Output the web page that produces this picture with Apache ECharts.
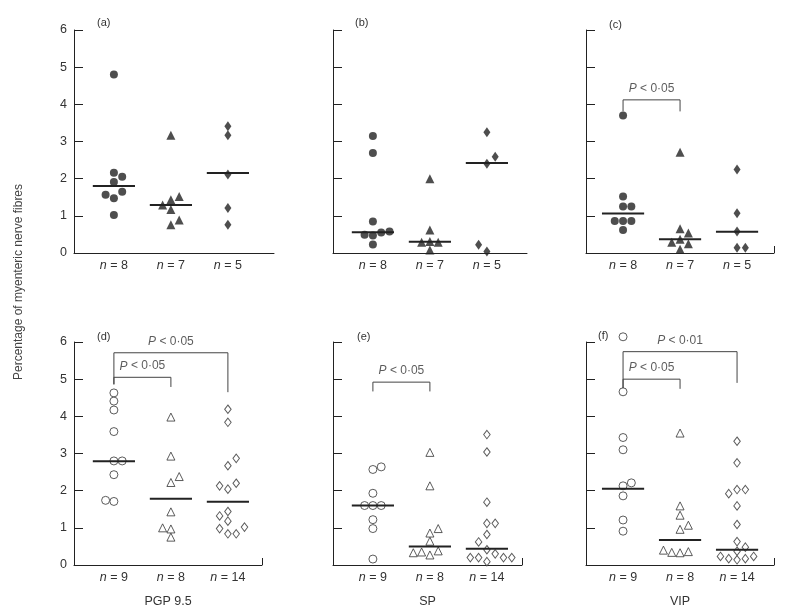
<!DOCTYPE html>
<html>
<head>
<meta charset="utf-8">
<script src="https://cdn.jsdelivr.net/npm/echarts@6/dist/echarts.min.js"></script>
<style>
html,body{margin:0;padding:0;background:#fff;}
#chart{width:791px;height:609px;}
</style>
</head>
<body>
<div id="chart"></div>
<script>
// ---------------- data ----------------
const panelLetters = ['(a)', '(b)', '(c)', '(d)', '(e)', '(f)'];
const nLabelsTop = ['8', '7', '5'];
const nLabelsBottom = ['9', '8', '14'];
const peptideNames = ['PGP 9.5', 'SP', 'VIP'];
const yAxisTitle = 'Percentage of myenteric nerve fibres';

const aCircle   = [4.80, 2.16, 2.05, 1.91, 1.47, 1.57, 1.65, 1.02];
const aTriangle = [3.17, 1.43, 1.52, 1.29, 1.17, 0.76, 0.89];
const aDiamond  = [3.41, 3.17, 2.11, 1.21, 0.76];
const aMedian   = [1.80, 1.29, 2.15];

const bCircle   = [3.15, 2.69, 0.85, 0.23, 0.47, 0.55, 0.49, 0.58];
const bTriangle = [2.00, 0.62, 0.08, 0.31, 0.29, 0.29];
const bDiamond  = [3.25, 2.40, 2.59, 0.04, 0.22];
const bMedian   = [0.56, 0.30, 2.42];

const cCircle   = [3.70, 1.52, 1.25, 1.25, 0.62, 0.86, 0.86, 0.86];
const cTriangle = [2.71, 0.65, 0.37, 0.10, 0.54, 0.29, 0.25];
const cDiamond  = [2.25, 1.07, 0.58, 0.14, 0.14];
const cMedian   = [1.06, 0.37, 0.57];

const dCircle   = [4.63, 4.41, 4.17, 3.59, 2.80, 2.80, 2.43, 1.71, 1.74];
const dTriangle = [3.98, 2.93, 2.22, 1.43, 0.97, 0.75, 2.38, 1.00];
const dDiamond  = [4.19, 3.84, 2.67, 2.87, 2.04, 2.13, 2.20, 1.44, 1.18, 1.32, 0.84, 0.84, 0.98, 1.02];
const dMedian   = [2.79, 1.78, 1.70];

const eCircle   = [2.57, 2.64, 1.93, 1.60, 1.60, 1.60, 1.22, 0.98, 0.16];
const eTriangle = [3.03, 2.13, 0.86, 0.64, 0.27, 0.98, 0.35, 0.38, 0.33];
const eDiamond  = [3.51, 3.04, 1.69, 1.12, 1.12, 0.82, 0.41, 0.09, 0.62, 0.30, 0.20, 0.20, 0.20, 0.20];
const eMedian   = [1.60, 0.50, 0.44];

const fCircle   = [6.14, 4.66, 3.43, 3.10, 2.13, 2.21, 1.86, 1.21, 0.91];
const fTriangle = [3.55, 1.59, 1.34, 0.96, 1.07, 0.33, 0.34, 0.36, 0.40];
const fDiamond  = [3.33, 2.75, 2.03, 2.03, 1.92, 1.59, 1.09, 0.63, 0.14, 0.37, 0.48, 0.17, 0.17, 0.23, 0.23];
const fMedian   = [2.05, 0.67, 0.41];

// brackets: [fromGroup, toGroup, topValue, leftLegEnd, rightLegEnd, pValueText]
const cBrackets = [[1, 2, 4.12, 3.81, 3.81, '0·05']];
const dBrackets = [[1, 3, 5.71, 4.86, 4.65, '0·05'], [1, 2, 5.05, 4.86, 4.79, '0·05']];
const eBrackets = [[1, 2, 4.92, 4.67, 4.67, '0·05']];
const fBrackets = [[1, 3, 5.74, 4.76, 4.90, '0·01'], [1, 2, 5.00, 4.76, 4.74, '0·05']];

// ---------------- layout ----------------
const FONT = '"Liberation Sans", Arial, Helvetica, sans-serif';
const TXT = '#333';
const INK = '#222';
const X_PX = 57; // px per group unit
const panels = [
  {grid: {left: 74,  top: 30,  width: 200, height: 223}, xMin: 0.30, endTick: false, showY: true,  letterPos: [97, 17],  filled: true,  groups: [aCircle, aTriangle, aDiamond], med: aMedian, br: [],        n: nLabelsTop,    name: ''},
  {grid: {left: 333, top: 30,  width: 194, height: 223}, xMin: 0.30, endTick: false, showY: false, letterPos: [355, 17], filled: true,  groups: [bCircle, bTriangle, bDiamond], med: bMedian, br: [],        n: nLabelsTop,    name: ''},
  {grid: {left: 586, top: 30,  width: 188, height: 223}, xMin: 0.35, endTick: true,  showY: false, letterPos: [609, 19], filled: true,  groups: [cCircle, cTriangle, cDiamond], med: cMedian, br: cBrackets, n: nLabelsTop,    name: ''},
  {grid: {left: 74,  top: 342, width: 188, height: 224}, xMin: 0.30, endTick: true,  showY: true,  letterPos: [97, 331], filled: false, groups: [dCircle, dTriangle, dDiamond], med: dMedian, br: dBrackets, n: nLabelsBottom, name: peptideNames[0]},
  {grid: {left: 333, top: 342, width: 189, height: 224}, xMin: 0.30, endTick: true,  showY: false, letterPos: [357, 331], filled: false, groups: [eCircle, eTriangle, eDiamond], med: eMedian, br: eBrackets, n: nLabelsBottom, name: peptideNames[1]},
  {grid: {left: 586, top: 342, width: 188, height: 224}, xMin: 0.35, endTick: true,  showY: false, letterPos: [598, 330], filled: false, groups: [fCircle, fTriangle, fDiamond], med: fMedian, br: fBrackets, n: nLabelsBottom, name: peptideNames[2]}
];

const symbols = ['circle', 'triangle', 'diamond'];
const symSizeFilled = [8, 9, [7, 10]];
const symSizeHollow = [8, 8, [6.5, 8.5]];

// simple beeswarm: spread colliding points sideways (layout computed, not typed)
function swarm(values, pxPerUnit) {
  const D = 7.8, DX = 8.3;
  const placed = [];
  return values.map(v => {
    const y = v * pxPerUnit;
    const hit = s => placed.some(p => Math.hypot((p.slot - s) * DX, p.y - y) < D);
    let slot = 0;
    if (hit(0)) {
      for (let k = 1; k < 12; k++) {
        const L = placed.filter(p => p.slot < 0).length;
        const R = placed.filter(p => p.slot > 0).length;
        const order = L < R ? [-k, k] : [k, -k];
        const s = order.find(c => !hit(c));
        if (s !== undefined) { slot = s; break; }
      }
    }
    placed.push({y, slot});
    return slot * DX;
  });
}

const grids = [], xAxes = [], yAxes = [], series = [], titles = [];
panels.forEach((p, i) => {
  grids.push(p.grid);
  const xMax = p.xMin + p.grid.width / X_PX;
  xAxes.push({
    type: 'value', gridIndex: i, min: p.xMin, max: xMax,
    axisLine: {show: true, lineStyle: {color: INK, width: 1}},
    axisTick: p.endTick ? {show: true, inside: true, length: 7, customValues: [xMax], lineStyle: {color: INK}} : {show: false},
    splitLine: {show: false},
    axisLabel: {
      show: true, customValues: [1, 2, 3], margin: 6,
      formatter: v => '{i|n} = ' + p.n[Math.round(v) - 1],
      fontFamily: FONT, fontSize: 12.5, color: TXT,
      rich: {i: {fontStyle: 'italic', fontFamily: FONT, fontSize: 12.5, color: TXT}}
    },
    name: p.name, nameLocation: 'middle', nameGap: 30,
    nameTextStyle: {fontFamily: FONT, fontSize: 12.5, color: TXT}
  });
  yAxes.push({
    type: 'value', gridIndex: i, min: 0, max: 6, interval: 1,
    axisLine: {show: true, lineStyle: {color: INK, width: 1}},
    axisTick: {show: true, inside: true, length: 9, lineStyle: {color: INK}},
    splitLine: {show: false},
    axisLabel: {show: p.showY, margin: 7, fontFamily: FONT, fontSize: 12.5, color: TXT}
  });
  titles.push({text: panelLetters[i], left: p.letterPos[0], top: p.letterPos[1], padding: 0,
    textStyle: {fontFamily: FONT, fontSize: 11, fontWeight: 'normal', color: TXT}});

  const pxY = p.grid.height / 6;
  p.groups.forEach((vals, g) => {
    const offs = swarm(vals, pxY);
    series.push({
      type: 'scatter', xAxisIndex: i, yAxisIndex: i, clip: false, silent: true,
      symbol: symbols[g],
      symbolSize: p.filled ? symSizeFilled[g] : symSizeHollow[g],
      itemStyle: p.filled ? {color: INK} : {color: '#fff', borderColor: '#333', borderWidth: 1},
      data: vals.map((v, k) => ({value: [g + 1, v], symbolOffset: [offs[k], 0]}))
    });
    series.push({
      type: 'line', xAxisIndex: i, yAxisIndex: i, clip: false, silent: true, symbol: 'none',
      lineStyle: {color: INK, width: 2}, z: 3,
      data: [[g + 1 - 0.37, p.med[g]], [g + 1 + 0.37, p.med[g]]]
    });
  });
  p.br.forEach(b => {
    series.push({
      type: 'line', xAxisIndex: i, yAxisIndex: i, clip: false, silent: true, symbol: 'none',
      lineStyle: {color: '#444', width: 1},
      data: [[b[0], b[3]], [b[0], b[2]], [b[1], b[2]], [b[1], b[4]]]
    });
    series.push({
      type: 'scatter', xAxisIndex: i, yAxisIndex: i, clip: false, silent: true,
      symbol: 'circle', symbolSize: 1, itemStyle: {color: 'rgba(0,0,0,0)'},
      label: {
        show: true, position: 'inside', formatter: '{i|P} < ' + b[5],
        fontFamily: FONT, fontSize: 12, color: TXT,
        rich: {i: {fontStyle: 'italic', fontFamily: FONT, fontSize: 12, color: TXT}}
      },
      data: [[(b[0] + b[1]) / 2, b[2] + 0.3]]
    });
  });
});

const chart = echarts.init(document.getElementById('chart'), null, {renderer: 'canvas'});
chart.setOption({
  backgroundColor: '#fff',
  animation: false,
  title: titles,
  grid: grids,
  xAxis: xAxes,
  yAxis: yAxes,
  series: series,
  graphic: [{
    type: 'text', x: 19, y: 282, rotation: Math.PI / 2,
    style: {text: yAxisTitle, fontFamily: FONT, fontSize: 12, fill: '#444', align: 'center', verticalAlign: 'middle'}
  }]
});
</script>
</body>
</html>
